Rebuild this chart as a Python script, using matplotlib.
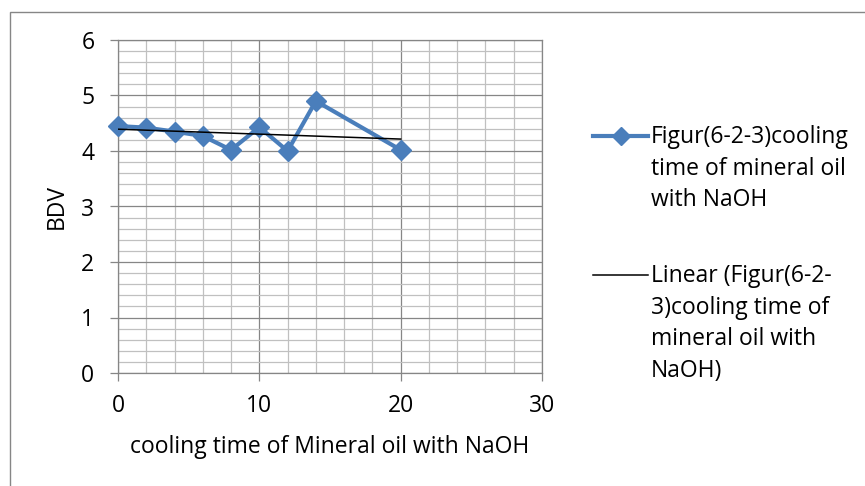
import numpy as np
import matplotlib
matplotlib.use("Agg")
import matplotlib.pyplot as plt
from matplotlib.lines import Line2D
from matplotlib.patches import Rectangle
from matplotlib.ticker import MultipleLocator

# data
cooling_time = [0, 2, 4, 6, 8, 10, 12, 14, 20]
bdv = [4.45, 4.42, 4.35, 4.27, 4.02, 4.43, 4.00, 4.90, 4.02]

series_label = "Figur(6-2-3)cooling\ntime of mineral oil\nwith NaOH"
trend_label = "Linear (Figur(6-2-\n3)cooling time of\nmineral oil with\nNaOH)"
x_title = "cooling time of Mineral oil with NaOH"
y_title = "BDV"

blue = "#4A7EBB"
grid_major = "#868686"
grid_minor = "#C0C0C0"
FS = 16.5

plt.rcParams['font.family'] = ['Open Sans', 'DejaVu Sans']
plt.rcParams['font.size'] = FS

W, H = 865, 486
fig = plt.figure(figsize=(W / 100, H / 100), dpi=100)
ax = fig.add_axes([118 / W, 1 - 373 / H, (542 - 118) / W, (373 - 40) / H])

ax.set_xlim(0, 30)
ax.set_ylim(0, 6)
ax.xaxis.set_major_locator(MultipleLocator(10))
ax.xaxis.set_minor_locator(MultipleLocator(2))
ax.yaxis.set_major_locator(MultipleLocator(1))
ax.yaxis.set_minor_locator(MultipleLocator(0.2))
ax.grid(which='minor', color=grid_minor, lw=0.9)
ax.grid(which='major', color=grid_major, lw=0.9)
ax.set_axisbelow(True)
ax.tick_params(axis='y', which='major', pad=11)
ax.tick_params(axis='x', which='major', pad=9)
ax.tick_params(which='major', direction='out', length=6, width=0.9,
               color=grid_major, labelsize=FS)
ax.tick_params(which='minor', length=0)
for s in ax.spines.values():
    s.set_color(grid_major)
    s.set_linewidth(0.9)

# series
ax.plot(cooling_time, bdv, color=blue, lw=3, marker='D', markersize=10,
        clip_on=False, zorder=3)

# linear trendline
k, b = np.polyfit(cooling_time, bdv, 1)
tx = np.array([min(cooling_time), max(cooling_time)])
ax.plot(tx, k * tx + b, color='black', lw=1.1, zorder=4)

ax.set_xlabel(x_title, va='center')
ax.xaxis.set_label_coords(0.5, (373 - 447) / (373 - 40))
ax.set_ylabel(y_title, va='center')
ax.yaxis.set_label_coords((57 - 118) / (542 - 118), 0.5)

# legend drawn by hand (Excel style: key aligned to first line)
def fy(py):
    return 1 - py / H

fig.lines.append(Line2D([593 / W, 648 / W], [fy(136)] * 2, transform=fig.transFigure,
                        color=blue, lw=3))
fig.lines.append(Line2D([620.5 / W], [fy(136)], transform=fig.transFigure,
                        color=blue, marker='D', markersize=9))
fig.lines.append(Line2D([593 / W, 648 / W], [fy(275)] * 2, transform=fig.transFigure,
                        color='black', lw=1.1))

for i, line in enumerate(series_label.split('\n')):
    fig.text(651 / W, fy(137 + i * 31.5), line, va='center', ha='left', fontsize=FS)
for i, line in enumerate(trend_label.split('\n')):
    fig.text(651 / W, fy(276 + i * 31.7), line, va='center', ha='left', fontsize=FS)

# chart area border
fig.patches.append(Rectangle((10 / W, -0.1), 1.2, fy(12) + 0.1, transform=fig.transFigure,
                             fill=False, edgecolor=grid_major, lw=1))

fig.savefig('out.png', dpi=100)
